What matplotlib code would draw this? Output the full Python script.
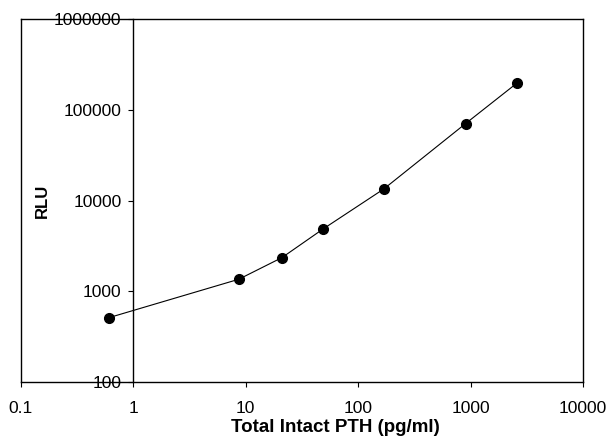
import matplotlib
matplotlib.use("Agg")
import matplotlib.pyplot as plt

plt.rcParams['font.family'] = ['Liberation Sans', 'DejaVu Sans']

# calibration curve
pth = [0.61, 8.65, 21.0, 48.3, 169, 904, 2590]
rlu = [513, 1355, 2350, 4820, 13400, 70500, 197000]

xticks = [0.1, 1, 10, 100, 1000, 10000]
xticklabels = ['0.1', '1', '10', '100', '1000', '10000']
yticks = [100, 1000, 10000, 100000, 1000000]
yticklabels = ['100', '1000', '10000', '100000', '1000000']

fig = plt.figure(figsize=(6.1, 4.4), dpi=100)
ax = fig.add_axes([0.0344, 0.1318, 0.9213, 0.825])

ax.plot(pth, rlu, '-o', color='black', lw=0.8, markersize=7, clip_on=False)

ax.set_xscale('log')
ax.set_yscale('log')
ax.set_xlim(0.1, 10000)
ax.set_ylim(100, 1000000)

# y axis crosses at x = 1, frame kept around the whole plot area
ax.spines['left'].set_position(('data', 1))
for s in ax.spines.values():
    s.set_linewidth(1.0)
    s.set_color('black')
ax.plot([0, 0], [0, 1], transform=ax.transAxes, color='black', lw=1.0,
        clip_on=False)

ax.set_xticks(xticks)
ax.set_xticklabels(xticklabels)
ax.set_yticks(yticks)
ax.set_yticklabels(yticklabels)
ax.minorticks_off()
ax.tick_params(axis='both', direction='out', length=3.5, width=0.8,
               labelsize=12.5, color='black')
ax.tick_params(axis='x', pad=10)
ax.tick_params(axis='y', pad=5)

ax.set_xlabel('Total Intact PTH (pg/ml)', fontsize=13.5, fontweight='bold')
ax.xaxis.set_label_coords(0.56, -0.103)
ax.set_ylabel('RLU', fontsize=12, fontweight='bold')
ax.yaxis.set_label_coords(0.052, 0.5)

fig.savefig('out.png', dpi=100)
